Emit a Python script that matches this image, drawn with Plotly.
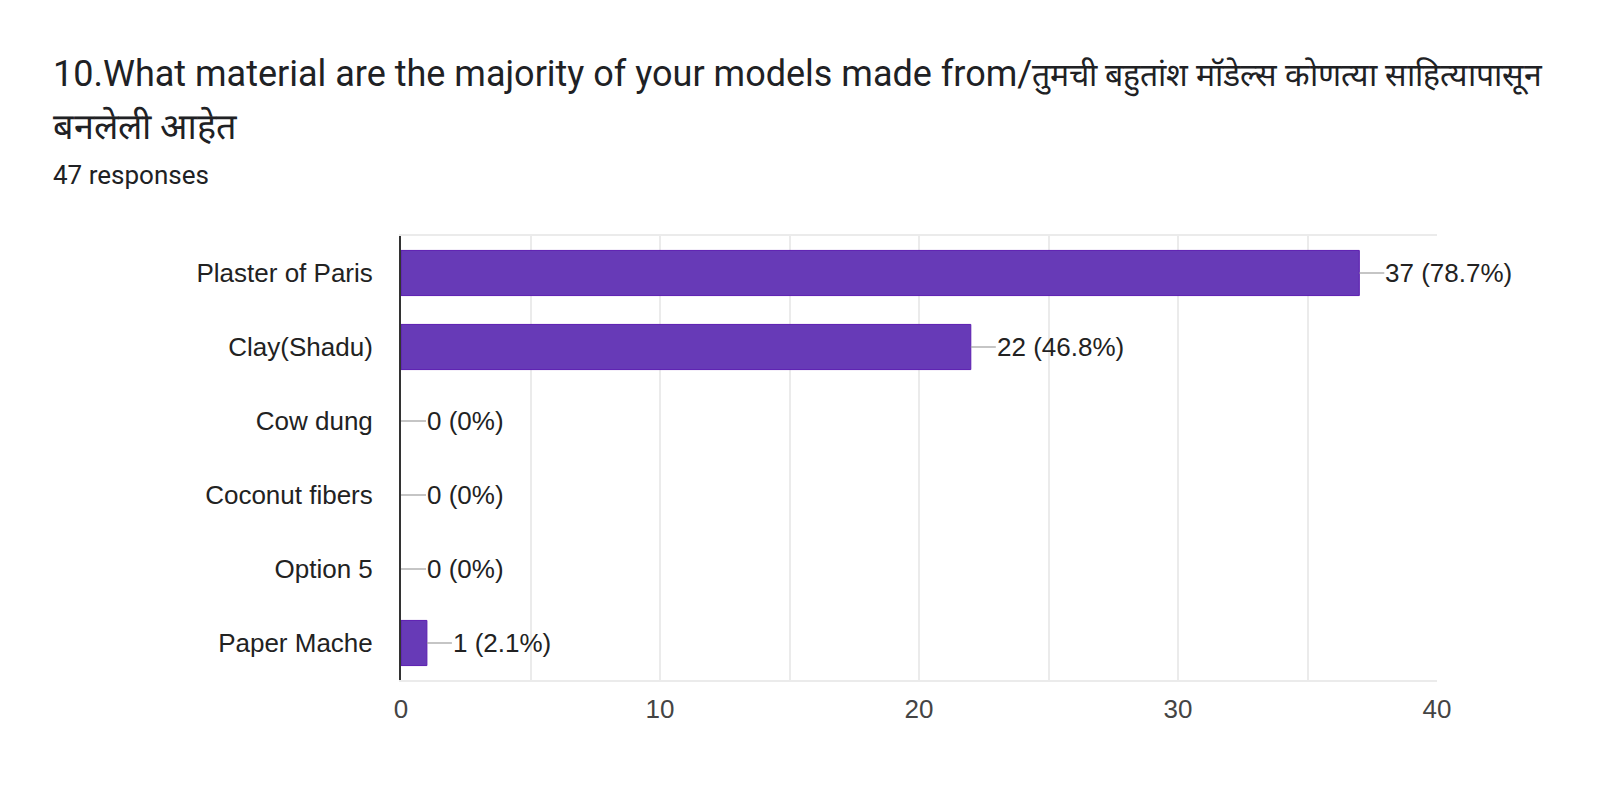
import plotly.graph_objects as go

# survey answers, top to bottom
categories = ["Plaster of Paris", "Clay(Shadu)", "Cow dung", "Coconut fibers", "Option 5", "Paper Mache"]
counts = [37, 22, 0, 0, 0, 1]
percents = ["78.7%", "46.8%", "0%", "0%", "0%", "2.1%"]
total = 47

title_en = "10.What material are the majority of your models made from/"
title_mr = "तुमची बहुतांश मॉडेल्स कोणत्या साहित्यापासून"
title_2 = "बनलेली आहेत"

# page has an 8px body margin, so the figure is drawn a bit smaller
W, H = 1584, 796
L, R, T, B = 393, 155, 228, 124
pw, ph = W - L - R, H - T - B

fig = go.Figure()
fig.add_trace(go.Bar(
    x=counts, y=categories, orientation="h",
    marker=dict(color="#673ab7",
                line=dict(color="#5b1cb0", width=[1 if n > 0 else 0 for n in counts])),
    hoverinfo="skip",
))

# leader lines + value labels
for c, n, p in zip(categories, counts, percents):
    fig.add_shape(type="line", xref="x", yref="y", xsizemode="pixel",
                  xanchor=n, x0=0, x1=25, y0=c, y1=c,
                  line=dict(color="#9e9e9e", width=1.2))
    fig.add_annotation(x=n, y=c, xref="x", yref="y", text=f"{n} ({p})",
                       showarrow=False, xanchor="left", xshift=24,
                       font=dict(family="Liberation Sans, Arial", size=26, color="#222222"))

def px(x):
    return (x - L) / pw

def py(y):
    return (H - B - y) / ph

fig.add_annotation(xref="paper", yref="paper", x=px(43), y=py(67),
                   text=title_en + f'<span style="font-size:32px">{title_mr}</span>',
                   showarrow=False, xanchor="left", yanchor="middle",
                   font=dict(family="Roboto", size=36, color="#202124"))
fig.add_annotation(xref="paper", yref="paper", x=px(43), y=py(119), text=title_2,
                   showarrow=False, xanchor="left", yanchor="middle",
                   font=dict(family="Roboto", size=36, color="#202124"))
fig.add_annotation(xref="paper", yref="paper", x=px(43), y=py(167), text=f"{total} responses",
                   showarrow=False, xanchor="left", yanchor="middle",
                   font=dict(family="Roboto", size=26, color="#202124"))

fig.update_layout(
    width=W, height=H,
    margin=dict(l=L, r=R, t=T, b=B, autoexpand=False),
    plot_bgcolor="white", paper_bgcolor="white",
    bargap=0.39, showlegend=False,
    font=dict(family="Liberation Sans, Arial", size=26, color="#222222"),
)
fig.update_xaxes(
    range=[0, 40], dtick=10, tick0=0,
    showgrid=True, gridcolor="#ebebeb", gridwidth=1.5,
    minor=dict(dtick=5, showgrid=True, gridcolor="#ebebeb", gridwidth=1.5),
    zeroline=False, showline=True, linecolor="#ebebeb", linewidth=1.5, mirror=True,
    tickfont=dict(family="Liberation Sans, Arial", size=26, color="#444444"),
    ticks="", ticklabelstandoff=5,
)
fig.update_yaxes(
    autorange="reversed", showgrid=False, zeroline=False,
    showline=True, linecolor="#333333", linewidth=2,
    tickfont=dict(family="Liberation Sans, Arial", size=26, color="#222222"),
    ticks="", ticklabelstandoff=21,
)

fig.write_html("out.html")
